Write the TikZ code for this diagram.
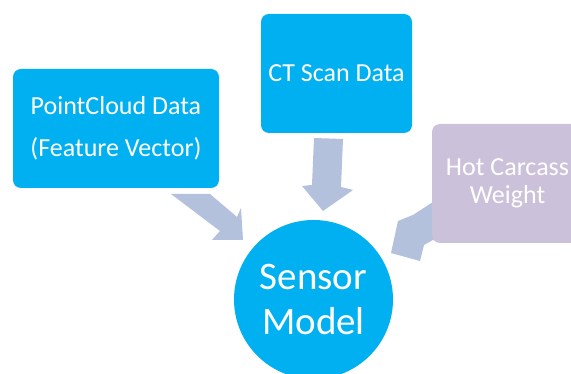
\documentclass[tikz,border=0pt]{standalone}
\usepackage{fontspec}
\setmainfont{Carlito}
\definecolor{cyanfill}{RGB}{0,176,240}
\definecolor{lavfill}{RGB}{204,193,218}
\definecolor{arrowfill}{RGB}{179,193,220}
\tikzset{
  inbox/.style={rounded corners=8pt, minimum width=151pt, minimum height=119pt,
    inner sep=0pt, text=white, align=center, font=\fontsize{26}{28}\selectfont},
  bluebox/.style={inbox, fill=cyanfill},
  lavbox/.style={inbox, fill=lavfill},
  hub/.style={circle, fill=cyanfill, minimum size=159pt, inner sep=0pt,
    text=white, align=center, font=\fontsize{39}{45}\selectfont},
  blockarrow/.style={fill=arrowfill}
}
\begin{document}
\begin{tikzpicture}[x=1pt,y=-1pt]
  \useasboundingbox (0,0) rectangle (571,374);
  \clip (0,0) rectangle (571,374);
  \fill[white] (0,0) rectangle (571,374);

  % block arrows pointing into the model
  \fill[blockarrow] (171,194) -- (210,194) -- (237,217) -- (241,208)
    -- (243,240) -- (212,240) -- (220,231) -- cycle;
  \fill[blockarrow] (314,138) -- (343,139) -- (341,187) -- (353,190)
    -- (323,211) -- (302,186) -- (312,185) -- cycle;
  \fill[blockarrow] (436,200) -- (413,215) -- (398,221) -- (391,253)
    -- (420,261) -- (424,245) -- (440,236) -- cycle;

  % inputs
  \node[bluebox, minimum width=206pt, font=\fontsize{26}{42}\selectfont]
    (pc) at (116,128.5) {PointCloud Data\\(Feature Vector)};
  \node[bluebox] (ct) at (336.5,73.5) {CT Scan Data};
  \node[lavbox] (hcw) at (507.5,183.5) {Hot Carcass\\Weight};

  % model
  \node[hub] (sm) at (313.5,299.5) {Sensor\\Model};
\end{tikzpicture}
\end{document}
